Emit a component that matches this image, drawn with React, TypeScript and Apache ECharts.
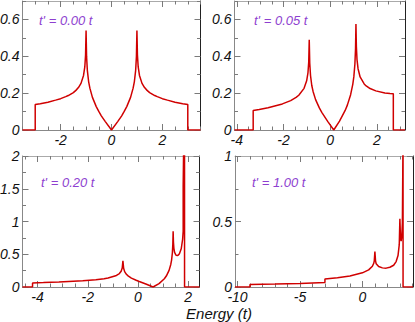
import React, { useEffect, useRef } from 'react';
import * as echarts from 'echarts';

const FONT = '"Liberation Sans", Arial, Helvetica, sans-serif';

// ---- Panel A: t' = 0.00 t ----
const energyA = [-3.5, -3.0, -3.0, -2.8, -2.5, -2.2, -2.0, -1.8, -1.7, -1.5, -1.4, -1.3, -1.2, -1.1, -1.05, -1.02, -1.0, -0.98, -0.95, -0.9, -0.85, -0.75, -0.6, -0.5, -0.4, -0.25, 0,
  0.25, 0.4, 0.5, 0.6, 0.75, 0.85, 0.9, 0.95, 0.98, 1.0, 1.02, 1.05, 1.1, 1.2, 1.3, 1.4, 1.5, 1.7, 1.8, 2.0, 2.2, 2.5, 2.8, 3.0, 3.0, 3.5];
const dosA = [0, 0, 0.138, 0.143, 0.151, 0.162, 0.170, 0.181, 0.187, 0.203, 0.215, 0.230, 0.253, 0.296, 0.342, 0.407, 0.54, 0.398, 0.324, 0.263, 0.227, 0.177, 0.127, 0.101, 0.077, 0.047, 0,
  0.047, 0.077, 0.101, 0.127, 0.177, 0.227, 0.263, 0.324, 0.398, 0.54, 0.407, 0.342, 0.296, 0.253, 0.230, 0.215, 0.203, 0.187, 0.181, 0.170, 0.162, 0.151, 0.143, 0.138, 0, 0];

// ---- Panel B: t' = 0.05 t ----
const energyB = [-4.1, -3.3, -3.3, -3.042, -2.663, -2.05, -1.695, -1.463, -1.348, -1.122, -1.011, -0.955, -0.922, -0.9, -0.878, -0.845, -0.791, -0.736, -0.628, -0.468, -0.363, -0.103, 0.15,
  0.397, 0.638, 0.732, 0.872, 0.964, 1.01, 1.055, 1.082, 1.1, 1.118, 1.145, 1.19, 1.278, 1.452, 1.538, 1.706, 1.95, 2.338, 2.558, 2.7, 2.7, 3.2];
const dosB = [0, 0, 0.106, 0.1115, 0.1208, 0.1415, 0.1596, 0.1768, 0.1884, 0.2261, 0.2667, 0.3095, 0.3693, 0.49, 0.3625, 0.2959, 0.2416, 0.2092, 0.1649, 0.1198, 0.096, 0.0458, 0,
  0.0481, 0.1061, 0.1351, 0.1917, 0.2481, 0.2893, 0.358, 0.4412, 0.575, 0.4532, 0.3821, 0.3326, 0.2877, 0.2498, 0.2392, 0.2249, 0.2123, 0.2013, 0.1982, 0.1969, 0, 0];

// ---- Panel C: t' = 0.20 t ----
const energyC = [-4.6, -4.2, -4.2, -3.768, -3.15, -2.2, -1.678, -1.35, -1.192, -0.888, -0.742, -0.671, -0.628, -0.6, -0.572, -0.531, -0.462, -0.395, -0.263, -0.072, 0.05, 0.338, 0.6,
  0.838, 1.05, 1.128, 1.238, 1.306, 1.338, 1.37, 1.388, 1.4, 1.412, 1.43, 1.458, 1.512, 1.562, 1.608, 1.65, 1.722, 1.778, 1.8, 1.8, 1.83, 1.85, 1.855, 2.45];
const dosC = [0, 0, 0.0626, 0.0673, 0.0755, 0.0943, 0.1111, 0.1271, 0.1377, 0.1711, 0.2056, 0.2408, 0.2891, 0.40, 0.2859, 0.2348, 0.1936, 0.1694, 0.1364, 0.1024, 0.084, 0.0426, 0,
  0.0521, 0.126, 0.1671, 0.2533, 0.3439, 0.4114, 0.5226, 0.6546, 0.85, 0.6875, 0.5897, 0.5286, 0.4869, 0.4796, 0.4882, 0.508, 0.5834, 0.729, 0.85, 1.54, 2.5, 6, 0, 0];

// ---- Panel D: t' = 1.00 t ----
const energyD = [-10.2, -9, -9, -7, -5, -3, -3, -2, -1, 0, 0.5, 0.8, 0.9, 0.95, 1.0, 1.05, 1.1, 1.3, 1.6, 1.9, 2.2, 2.5, 2.7, 2.85, 2.95, 3.0, 3.05, 3.1, 3.15, 3.2, 3.24, 3.25, 3.255, 4.05];
const dosD = [0, 0, 0.0197, 0.0226, 0.027, 0.034, 0.0616, 0.0709, 0.0844, 0.108, 0.1305, 0.159, 0.179, 0.20, 0.27, 0.20, 0.178, 0.156, 0.146, 0.144, 0.151, 0.166, 0.194, 0.24, 0.323, 0.52, 0.369, 0.35, 0.386, 0.49, 1.0, 3, 0, 0];

const panelLabels = ["t' = 0.00 t", "t' = 0.05 t", "t' = 0.20 t", "t' = 1.00 t"];

const xTicksA = [-2, 0, 2];
const xTicksB = [-4, -2, 0, 2];
const xTicksC = [-4, -2, 0, 2];
const xTicksD = [-10, -5, 0];
const yTicksTop = [0, 0.2, 0.4, 0.6];
const yTicksC = [0, 0.5, 1, 1.5, 2];
const yTicksD = [0, 0.5, 1];

const xMinorA = [-3.5, -3, -2.5, -2, -1.5, -1, -0.5, 0, 0.5, 1, 1.5, 2, 2.5, 3, 3.5];
const xMinorB = [-4, -3.5, -3, -2.5, -2, -1.5, -1, -0.5, 0, 0.5, 1, 1.5, 2, 2.5, 3];
const xMinorC = [-4.5, -4, -3.5, -3, -2.5, -2, -1.5, -1, -0.5, 0, 0.5, 1, 1.5, 2];
const xMinorD = [-10, -9, -8, -7, -6, -5, -4, -3, -2, -1, 0, 1, 2, 3, 4];
const yMinorTop = [0.1, 0.3, 0.5, 0.7];
const yMinorC = [0.25, 0.75, 1.25, 1.75];
const yMinorD = [0.25, 0.75];

const panels = [
  { e: energyA, d: dosA, xMin: -3.5, xMax: 3.5, xMajor: xTicksA, xMinor: xMinorA, yMax: 0.7, yMajor: yTicksTop, yMinor: yMinorTop },
  { e: energyB, d: dosB, xMin: -4.1, xMax: 3.2, xMajor: xTicksB, xMinor: xMinorB, yMax: 0.7, yMajor: yTicksTop, yMinor: yMinorTop },
  { e: energyC, d: dosC, xMin: -4.6, xMax: 2.45, xMajor: xTicksC, xMinor: xMinorC, yMax: 2, yMajor: yTicksC, yMinor: yMinorC },
  { e: energyD, d: dosD, xMin: -10.2, xMax: 4.05, xMajor: xTicksD, xMinor: xMinorD, yMax: 1, yMajor: yTicksD, yMinor: yMinorD },
];

const layouts = [
  { left: 22.5, top: 1, width: 178, height: 129, lx: 39, ly: 20 },
  { left: 234.5, top: 1, width: 170.5, height: 129, lx: 254, ly: 20 },
  { left: 22.5, top: 156, width: 177, height: 131, lx: 41, ly: 182 },
  { left: 235, top: 156, width: 178, height: 131, lx: 252, ly: 182 },
];

function mkAxis(gridIndex: number, min: number, max: number, position: string, color: string, showLine: boolean, ticks: number[], len: number, label: any) {
  return {
    type: 'value',
    gridIndex,
    min,
    max,
    position,
    axisLine: { show: showLine, onZero: false, lineStyle: { color, width: 1 } },
    axisTick: { show: true, inside: true, length: len, customValues: ticks, lineStyle: { color: '#7a7a7a', width: 1 } },
    axisLabel: label ? label : { show: false },
    splitLine: { show: false },
    minorTick: { show: false },
  };
}

export default function App() {
  const ref = useRef<HTMLDivElement>(null);
  useEffect(() => {
    document.body.style.margin = '0';
    if (!ref.current) return;
    const chart = echarts.init(ref.current, undefined, { renderer: 'svg' });
    const lab = { show: true, fontSize: 14, fontStyle: 'italic', fontFamily: FONT, color: '#111' };
    const xAxes: any[] = [];
    const yAxes: any[] = [];
    panels.forEach((p, g) => {
      xAxes.push(mkAxis(g, p.xMin, p.xMax, 'bottom', '#888', true, p.xMajor, 6, { ...lab, margin: 3, customValues: p.xMajor }));
      xAxes.push(mkAxis(g, p.xMin, p.xMax, 'bottom', '#888', false, p.xMinor, 3.5, null));
      xAxes.push(mkAxis(g, p.xMin, p.xMax, 'top', '#aaa', true, p.xMajor, 6, null));
      xAxes.push(mkAxis(g, p.xMin, p.xMax, 'top', '#aaa', false, p.xMinor, 3.5, null));
      yAxes.push(mkAxis(g, 0, p.yMax, 'left', '#888', true, p.yMajor, 6, { ...lab, margin: 3, customValues: p.yMajor }));
      yAxes.push(mkAxis(g, 0, p.yMax, 'left', '#888', false, p.yMinor, 3.5, null));
      yAxes.push(mkAxis(g, 0, p.yMax, 'right', '#222', true, p.yMajor, 6, null));
      yAxes.push(mkAxis(g, 0, p.yMax, 'right', '#222', false, p.yMinor, 3.5, null));
    });
    const option: any = {
      animation: false,
      grid: layouts.map((l) => ({ left: l.left, top: l.top, width: l.width, height: l.height, outerBoundsMode: 'none', containLabel: false })),
      xAxis: xAxes,
      yAxis: yAxes,
      series: panels.map((p, g) => ({
        type: 'line',
        xAxisIndex: 4 * g,
        yAxisIndex: 4 * g,
        data: p.e.map((e, i) => [e, p.d[i]]),
        showSymbol: false,
        symbol: 'none',
        clip: true,
        silent: true,
        lineStyle: { color: '#d00000', width: 1.5 },
      })),
      graphic: [
        ...layouts.map((l, i) => ({
          type: 'text',
          x: l.lx,
          y: l.ly,
          silent: true,
          style: { text: panelLabels[i], fill: '#8e3fd0', fontSize: 13, fontStyle: 'italic', fontFamily: FONT, align: 'left', verticalAlign: 'middle' },
        })),
        {
          type: 'text',
          x: 219,
          y: 313,
          silent: true,
          style: { text: 'Energy (t)', fill: '#111', fontSize: 15, fontStyle: 'italic', fontFamily: FONT, align: 'center', verticalAlign: 'middle' },
        },
      ],
    };
    chart.setOption(option);
    return () => chart.dispose();
  }, []);
  return <div ref={ref} style={{ width: 415, height: 322 }} />;
}
